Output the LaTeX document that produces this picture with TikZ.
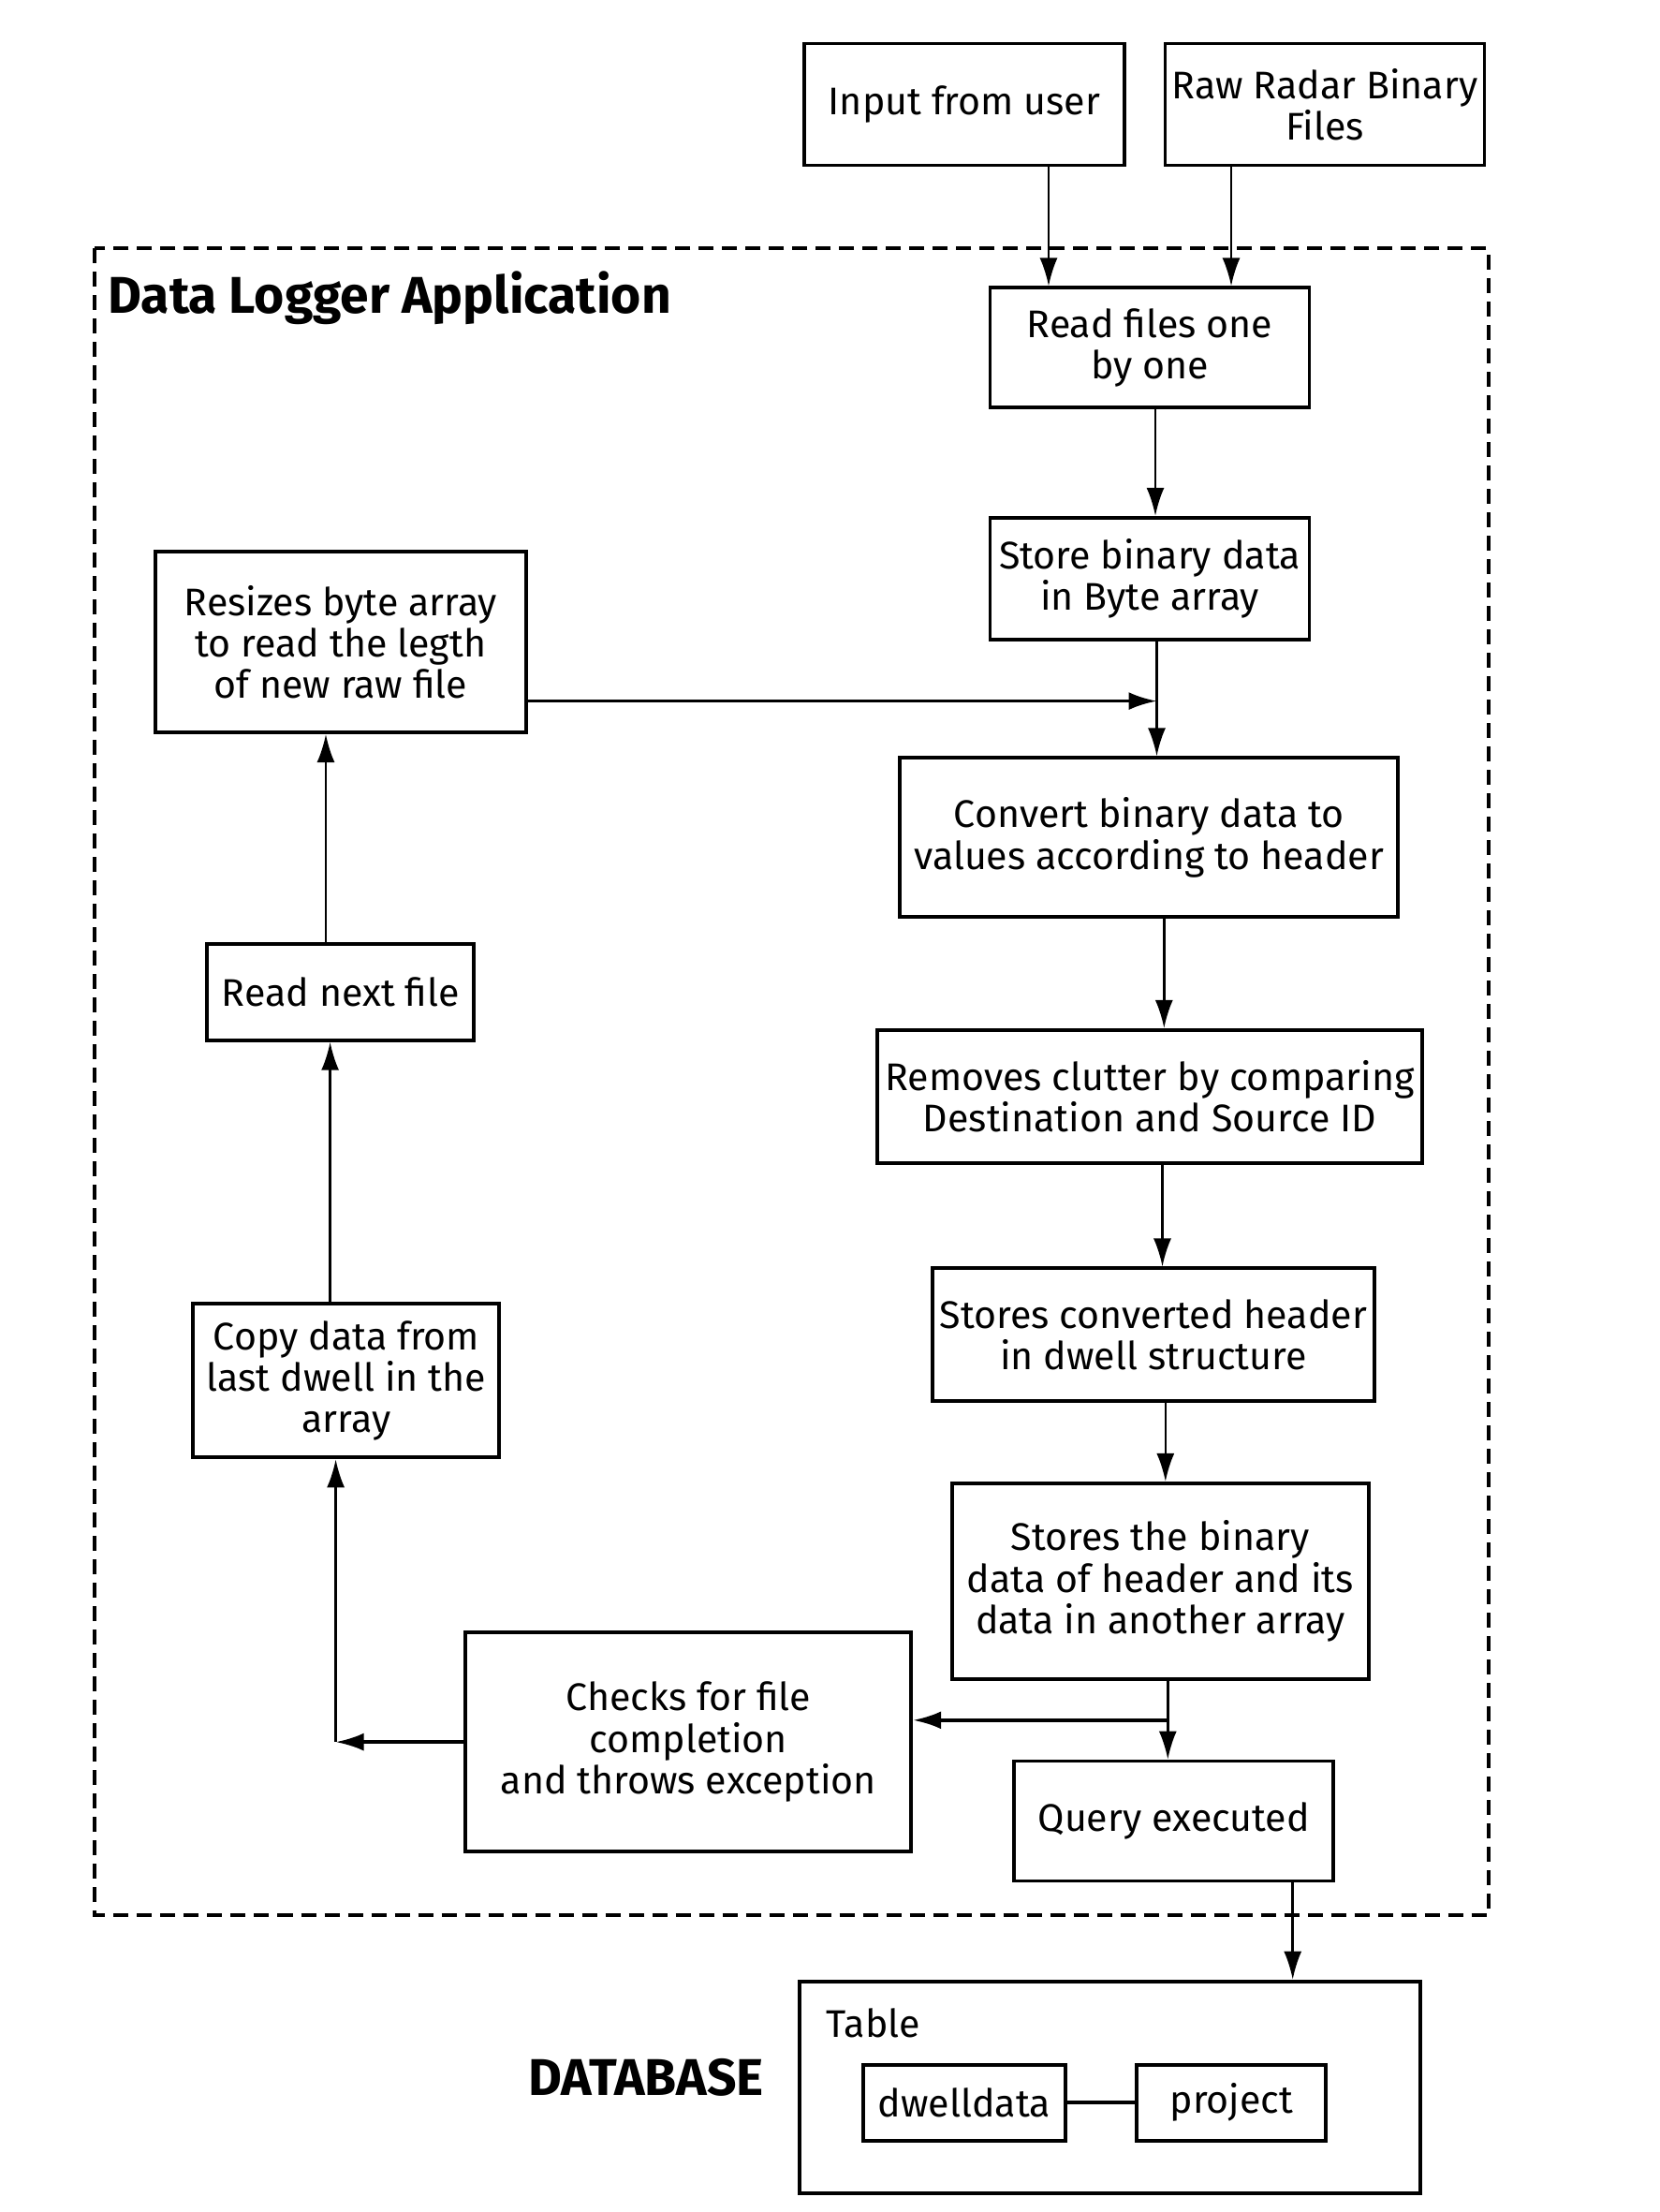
\documentclass[tikz,border=0pt]{standalone}
\usepackage{fontspec}
\setmainfont{Fira Sans}
\usetikzlibrary{arrows.meta}

\tikzset{%
  every block/.style={
    rectangle,
    draw,
    line width=1.1pt,
    align=center,
    inner sep=1pt,
    font=\fontsize{11.7}{12.6}\selectfont
  },
  block title/.style={
    font=\fontsize{15.7}{16}\selectfont\bfseries
  },
  flow/.style={
    line width=0.7pt
  },
}

\begin{document}
\begin{tikzpicture}[>={Latex[length=3mm,width=1.9mm]}]

\useasboundingbox (0,0) rectangle (17.72,-23.62);

% application frame
\draw [line width=1.1pt, dash pattern=on 1.6mm off 0.9mm] (1.01,-2.652) rectangle (15.897,-20.447);
\node [block title, anchor=west] (apptitle) at (1.03,-3.179) {Data Logger Application};

% inputs
\node [every block/.try, minimum width=3.42cm, minimum height=1.30cm] (user) at (10.30,-1.115) {Input from user};
\node [every block/.try, minimum width=3.41cm, minimum height=1.30cm] (raw) at (14.15,-1.115) {Raw Radar Binary\\Files};

% main column
\node [every block/.try, minimum width=3.41cm, minimum height=1.28cm] (readfiles) at (12.28,-3.714) {Read files one\\by one};
\node [every block/.try, minimum width=3.41cm, minimum height=1.30cm] (storebin) at (12.28,-6.178) {Store binary data\\in Byte array};
\node [every block/.try, minimum width=5.32cm, minimum height=1.70cm] (convert) at (12.273,-8.943) {Convert binary data to\\values according to header};
\node [every block/.try, minimum width=5.82cm, minimum height=1.42cm] (clutter) at (12.28,-11.708) {Removes clutter by comparing\\Destination and Source ID};
\node [every block/.try, minimum width=4.72cm, minimum height=1.42cm] (header) at (12.318,-14.254) {Stores converted header\\in dwell structure};
\node [every block/.try, minimum width=4.45cm, minimum height=2.09cm] (binary) at (12.393,-16.884) {Stores the binary\\data of header and its\\data in another array};
\node [every block/.try, minimum width=3.41cm, minimum height=1.28cm] (query) at (12.537,-19.445) {Query executed};
\node [every block/.try, minimum width=4.76cm, minimum height=2.34cm] (checks) at (7.353,-18.601) {Checks for file\\completion\\and throws exception};

% loop back column
\node [every block/.try, minimum width=3.27cm, minimum height=1.64cm] (copy) at (3.699,-14.744) {Copy data from\\last dwell in the\\array};
\node [every block/.try, minimum width=2.85cm, minimum height=1.03cm] (readnext) at (3.639,-10.593) {Read next file};
\node [every block/.try, minimum width=3.96cm, minimum height=1.93cm] (resize) at (3.639,-6.856) {Resizes byte array\\to read the legth\\of new raw file};

% database
\node [every block/.try, minimum width=6.63cm, minimum height=2.26cm] (db) at (11.859,-22.286) {};
\node [anchor=west, font=\fontsize{11.7}{12.6}\selectfont] (table) at (8.70,-21.607) {Table};
\node [every block/.try, minimum width=2.16cm, minimum height=0.81cm] (dwell) at (10.299,-22.451) {dwelldata};
\node [every block/.try, minimum width=2.02cm, minimum height=0.81cm] (project) at (13.154,-22.451) {project};
\node [block title] (dbtitle) at (6.90,-22.18) {DATABASE};

% connectors
\draw [flow, ->] ([xshift=0.9cm]user.south) -- ([xshift=0.9cm]user.south |- readfiles.north);
\draw [flow, ->] ([xshift=-1cm]raw.south) -- ([xshift=-1cm]raw.south |- readfiles.north);

\foreach \a/\b/\s in {readfiles/storebin/0.06, storebin/convert/0.075, convert/clutter/0.16,
                      clutter/header/0.135, header/binary/0.13, binary/query/0.08}
  \draw [flow, ->] ([xshift=\s cm]\a.south) -- ([xshift=\s cm]\a.south |- \b.north);

\draw [flow, ->, line width=1pt] ([yshift=-0.63cm]resize.east) -- ([yshift=-0.63cm]resize.east -| 12.355,0);

\coordinate (split) at (12.473,-18.368);
\draw [flow, ->, line width=1pt] (split) -- (split -| checks.east);

\coordinate (turn) at (3.586,-18.601);
\draw [flow, ->, line width=1pt] (checks.west) -- (turn);
\draw [flow, ->] (turn) -- (turn |- copy.south);

\draw [flow, ->] (copy.north -| 3.526,0) -- (3.526,0 |- readnext.south);
\draw [flow, ->] (readnext.north -| 3.48,0) -- (3.48,0 |- resize.south);

\draw [flow, ->] ([xshift=1.27cm]query.south) -- ([xshift=1.27cm]query.south |- db.north);
\draw [line width=1pt] (dwell) -- (project);

\end{tikzpicture}
\end{document}
